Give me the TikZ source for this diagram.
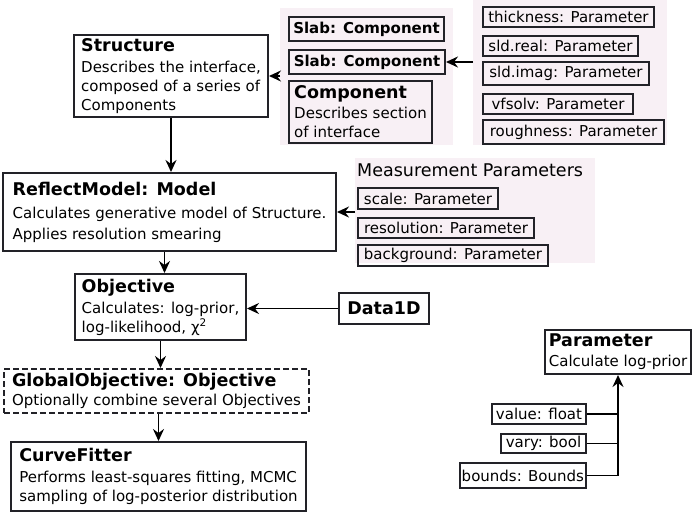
\documentclass[tikz,border=0pt]{standalone}
\usepackage{fontspec}
\setmainfont{DejaVu Sans}
\usetikzlibrary{positioning,arrows.meta}
\definecolor{grpbg}{RGB}{248,240,245}
\definecolor{edgec}{RGB}{34,34,40}
\newcommand{\hd}[1]{{\fontsize{17.5}{21}\selectfont\bfseries #1}}

\begin{document}
\begin{tikzpicture}
  [x=1pt,y=-1pt,
   boxN/.style={draw=edgec,line width=2pt,align=left,inner xsep=4pt,inner ysep=2pt,
                anchor=north west,font=\fontsize{15}{19}\selectfont},
   parN/.style={draw=edgec,line width=2pt,inner xsep=2pt,inner ysep=1pt,
                font=\fontsize{15}{18}\selectfont},
   groupN/.style={fill=grpbg,anchor=north west,inner sep=0pt},
   link/.style={-{Stealth[length=12pt,width=11pt,inset=4pt]},line width=1.8pt}]

  \useasboundingbox (0,0) rectangle (692,511);

  % pink groups
  \node[groupN,minimum width=173,minimum height=137] (compgrp) at (280,8)   {};
  \node[groupN,minimum width=194,minimum height=145] (pargrp)  at (473,0)   {};
  \node[groupN,minimum width=240,minimum height=105] (measgrp) at (355,158) {};

  % main column
  \node[boxN,minimum width=194,minimum height=82] (struct) at (73,34)
    {\hd{Structure}\\[2pt]Describes the interface,\\composed of a series of\\Components};
  \node[boxN,minimum width=333,minimum height=78,inner xsep=7pt] (model) at (2,172)
    {\hd{ReflectModel: Model}\\[4pt]Calculates generative model of Structure.\\[2pt]Applies resolution smearing};
  \node[boxN,minimum width=171,minimum height=66] (objective) at (74,273)
    {\hd{Objective}\\[2pt]Calculates: log-prior,\\log-likelihood, χ\textsuperscript{2}};
  \node[boxN,minimum width=305,minimum height=44,dash pattern=on 6pt off 3pt] (globobj) at (3,368)
    {\hd{GlobalObjective: Objective}\\Optionally combine several Objectives};
  \node[boxN,minimum width=295,minimum height=69] (fitter) at (10,441)
    {\hd{CurveFitter}\\[2pt]Performs least-squares fitting, MCMC\\sampling of log-posterior distribution};

  % components
  \node[parN,minimum width=155,minimum height=24,anchor=north west,
        font=\fontsize{15}{18}\selectfont\bfseries] (slab1) at (288,16) {Slab: Component};
  \node[parN,minimum width=156,minimum height=24,
        font=\fontsize{15}{18}\selectfont\bfseries] (slab2) [below right=7pt and 0pt of slab1.south west] {Slab: Component};
  \node[boxN,minimum width=143,minimum height=62] (comp) [below right=5pt and 0pt of slab2.south west]
    {\hd{Component}\\[1pt]Describes section\\of interface};

  % slab parameters
  \node[parN,minimum width=171,minimum height=20,anchor=north west] (thick) at (482,6) {thickness: Parameter};
  \node[parN,minimum width=155,minimum height=20] (sldre)  [below right=7pt and 0pt of thick.south west]  {sld.real: Parameter};
  \node[parN,minimum width=166,minimum height=23] (sldim)  [below right=4pt and 0pt of sldre.south west]  {sld.imag: Parameter};
  \node[parN,minimum width=150,minimum height=20] (vfsolv) [below right=7pt and 0pt of sldim.south west]  {vfsolv: Parameter};
  \node[parN,minimum width=181,minimum height=24] (rough)  [below right=4pt and 0pt of vfsolv.south west] {roughness: Parameter};

  % measurement parameters
  \node[anchor=west,inner sep=0pt,font=\fontsize{17.5}{21}\selectfont] (measlbl) at (357,170) {Measurement Parameters};
  \node[parN,minimum width=140,minimum height=21,anchor=north west] (scale) at (357,187) {scale: Parameter};
  \node[parN,minimum width=176,minimum height=20] (resol)  [below right=7pt and 0pt of scale.south west] {resolution: Parameter};
  \node[parN,minimum width=190,minimum height=21] (backgr) [below right=5pt and 0pt of resol.south west] {background: Parameter};

  % data
  \node[parN,minimum width=90,minimum height=31,anchor=north west,
        font=\fontsize{17.5}{21}\selectfont\bfseries] (data) at (338,292) {Data1D};

  % parameter class
  \node[boxN,minimum width=146,minimum height=44,inner xsep=1pt] (param) at (544,329)
    {\hd{Parameter}\\[1pt]Calculate log-prior};
  \node[parN,minimum width=94,minimum height=20,anchor=north west] (value) at (491,403) {value: float};
  \node[parN,minimum width=85,minimum height=19]  (vary)   [below left=8pt and 0pt of value.south east] {vary: bool};
  \node[parN,minimum width=125,minimum height=25] (bounds) [below left=8pt and 0pt of vary.south east]  {bounds: Bounds};

  % connectors
  \draw[link] (compgrp.west |- struct.east) -- (struct.east);
  \draw[link] (pargrp.west |- slab2.east) -- (slab2.east);
  \draw[link] (struct.south) -- (struct.south |- model.north);
  \draw[link] (measgrp.west |- model.east) -- (model.east);
  \draw[link] ([xshift=4pt]objective.north |- model.south) -- ([xshift=4pt]objective.north);
  \draw[link] (data.west) -- (data.west -| objective.east);
  \draw[link] (objective.south) -- (objective.south |- globobj.north);
  \draw[link] (fitter.north |- globobj.south) -- (fitter.north);
  \draw[link] (bounds.east) -| (param.south);
  \draw[line width=1.8pt] (value.east) -- (value.east -| param.south);
  \draw[line width=1.8pt] (vary.east) -- (vary.east -| param.south);

\end{tikzpicture}
\end{document}
